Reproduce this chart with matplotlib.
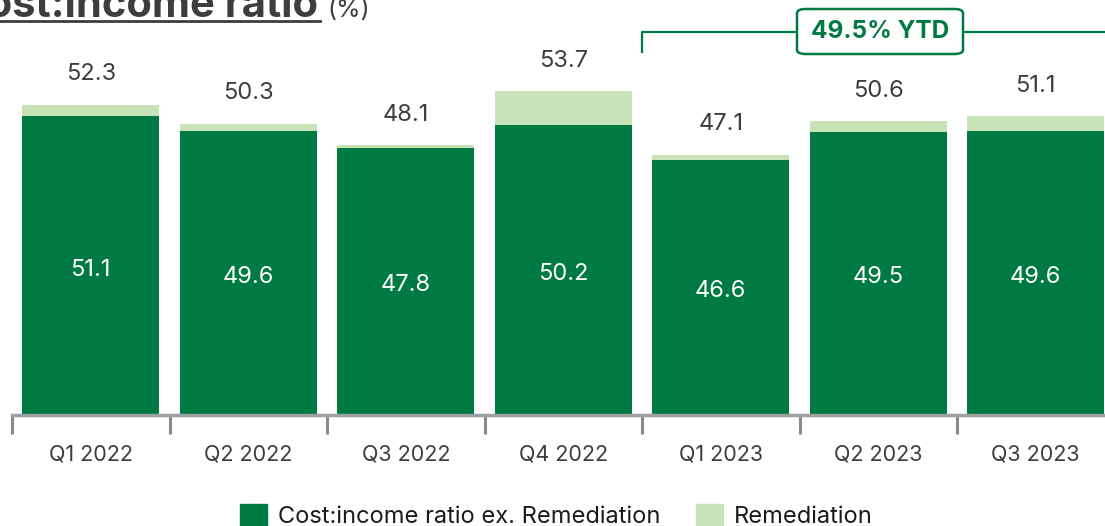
import matplotlib.pyplot as plt
from matplotlib.patches import FancyBboxPatch, Patch
from matplotlib.lines import Line2D

plt.rcParams['font.family'] = ['Inter', 'DejaVu Sans']

# data
quarters = ['Q1 2022', 'Q2 2022', 'Q3 2022', 'Q4 2022', 'Q1 2023', 'Q2 2023', 'Q3 2023']
ex_remediation = [51.1, 49.6, 47.8, 50.2, 46.6, 49.5, 49.6]
totals = [52.3, 50.3, 48.1, 53.7, 47.1, 50.6, 51.1]
remediation = [round(t - e, 1) for t, e in zip(totals, ex_remediation)]
ytd_label = '49.5% YTD'

dark_green = '#007A43'
light_green = '#C9E3B9'
text_grey = '#3D3D3D'

W, H = 1105, 526
fig = plt.figure(figsize=(W / 100, H / 100), dpi=100)

# axes placed in pixel terms: x from 12 to 1114.5 px, bottom at 415 px from top
ax = fig.add_axes([12 / W, (H - 415) / H, 1102.5 / W, 415 / H])
ax.set_xlim(-0.5, 6.5)
ymin, px_per_unit = 20, 9.6
ax.set_ylim(ymin, ymin + 415 / px_per_unit)

x = list(range(len(quarters)))
ax.bar(x, [v - ymin for v in ex_remediation], bottom=ymin, width=0.87,
       color=dark_green, label='Cost:income ratio ex. Remediation', zorder=2)
ax.bar(x, remediation, bottom=ex_remediation, width=0.87,
       color=light_green, label='Remediation', zorder=2)

for i in x:
    ax.text(i, (ymin + ex_remediation[i]) / 2 - 0.4, f'{ex_remediation[i]:.1f}',
            ha='center', va='center', color='white', fontsize=17)
    ax.text(i, totals[i] + 3.2, f'{totals[i]:.1f}',
            ha='center', va='center', color=text_grey, fontsize=17)

# axis styling
for s in ['top', 'right', 'left']:
    ax.spines[s].set_visible(False)
ax.spines['bottom'].set_color('#A0A0A0')
ax.spines['bottom'].set_linewidth(2.5)
ax.set_yticks([])
ax.set_xticks(x)
ax.set_xticklabels(quarters, fontsize=15.5, color=text_grey)
ax.tick_params(axis='x', which='major', length=0, pad=21)
ax.set_xticks([i - 0.5 for i in range(len(quarters) + 1)], minor=True)
ax.tick_params(axis='x', which='minor', length=14, width=2.2, color='#8A8A8A')

# YTD bracket
y_line = ymin + (415 - 32) / px_per_unit
y_end = ymin + (415 - 52) / px_per_unit
ax.plot([3.5, 3.5, 6.5, 6.5], [y_end, y_line, y_line, y_end], color=dark_green,
        lw=1.6, clip_on=False, zorder=3)
box = FancyBboxPatch((797 / W, (H - 54) / H), 166 / W, 45 / H,
                     boxstyle='round,pad=0,rounding_size=0.008',
                     transform=fig.transFigure, facecolor='white',
                     edgecolor=dark_green, lw=1.8, zorder=5)
fig.patches.append(box)
fig.text(880 / W, (H - 32) / H, ytd_label, ha='center', va='center',
         color=dark_green, fontsize=17.5, fontweight='bold', zorder=6)

# title (cut off at the top-left like the source)
fig.text(318 / W, (H - 17) / H, 'Cost:income ratio', ha='right', va='baseline',
         color=text_grey, fontsize=30, fontweight='bold')
fig.text(327 / W, (H - 17) / H, '(%)', ha='left', va='baseline',
         color=text_grey, fontsize=18)
fig.add_artist(Line2D([0, 320 / W], [(H - 21) / H] * 2, transform=fig.transFigure,
                      color=text_grey, lw=2))

# legend
handles = [Patch(color=dark_green), Patch(color=light_green)]
fig.legend(handles, ['Cost:income ratio ex. Remediation', 'Remediation'],
           loc='center left', bbox_to_anchor=(219 / W, (H - 516) / H), ncol=2,
           frameon=False, fontsize=17, handlelength=1.15, handleheight=1.15,
           handletextpad=0.45, columnspacing=1.5, labelcolor='#1A1A1A')

fig.savefig('out.png', dpi=100)
